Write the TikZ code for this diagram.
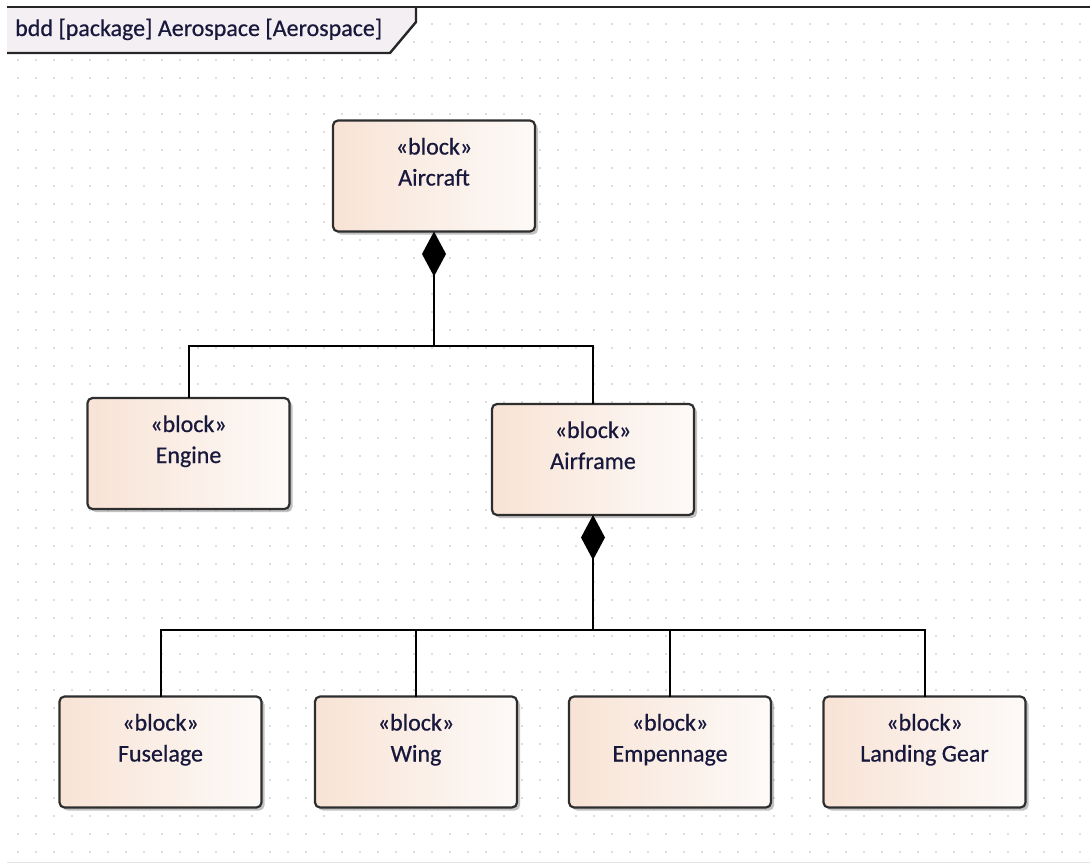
\documentclass[tikz,border=0pt]{standalone}
\usepackage{fontspec}
\setmainfont{Carlito}[FakeBold=0.6]
\usetikzlibrary{arrows.meta,shadows}
\definecolor{txt}{HTML}{18183C}
\definecolor{boxc}{HTML}{2E2E2E}
\definecolor{fillL}{HTML}{F8E3D5}
\definecolor{fillR}{HTML}{FDFAF8}
\definecolor{tabc}{HTML}{F4EFF2}
\definecolor{dotc}{HTML}{B8B8B8}
\newcommand{\blkc}[1]{\parbox[c][111pt][t]{202pt}{\centering\rule{0pt}{34pt}«block»\\#1}}
\begin{document}
\begin{tikzpicture}[x=1pt,y=-1pt,
  blk/.style={draw=boxc, line width=2.2pt, rounded corners=5pt, left color=fillL, right color=fillR,
    inner sep=0pt, outer sep=0pt, drop shadow={shadow xshift=3pt, shadow yshift=-3pt, opacity=0.35, fill=black!70},
    font=\fontsize{24}{31}\selectfont, text=txt},
  conn/.style={line width=2pt, black},
  comp/.style={conn, {Diamond[length=45pt,width=24pt]}-},
  frame/.style={line width=2.4pt, black!85}]
\useasboundingbox (0,0) rectangle (1090,865);
% dot grid
\foreach \i in {1,...,60}{\foreach \j in {0,...,44}{\fill[dotc] (18*\i,60+18*\j) circle (0.9pt);}}
\foreach \i in {24,...,60}{\fill[dotc] (18*\i,24) circle (0.9pt);}
\foreach \i in {23,...,60}{\fill[dotc] (18*\i,42) circle (0.9pt);}
% frame
\fill[tabc] (7,7) -- (416,7) -- (416,22) -- (390,53) -- (7,53) -- cycle;
\draw[frame] (7,53) -- (390,53) -- (416,22) -- (416,7);
\draw[frame] (7,7) -- (1090,7);
\draw[black!10, line width=1pt] (7,862) -- (1090,862);
\node[anchor=base west, inner sep=0pt, font=\fontsize{24}{29}\selectfont, text=txt] (title) at (15,36) {bdd [package] Aerospace [Aerospace]};
% blocks
\node[blk] (aircraft) at (434,176) {\blkc{Aircraft}};
\node[blk] (engine) at (188.5,453.5) {\blkc{Engine}};
\node[blk] (airframe) at (593,459.5) {\blkc{Airframe}};
\node[blk] (fuselage) at (160.5,752) {\blkc{Fuselage}};
\node[blk] (wing) at (416,752) {\blkc{Wing}};
\node[blk] (empennage) at (670,752) {\blkc{Empennage}};
\node[blk] (gear) at (924.5,752) {\blkc{Landing Gear}};
% connectors
\coordinate (j1) at (434,346);
\coordinate (j2) at (593,630);
\draw[comp] (aircraft.south) -- (j1);
\draw[conn] (j1) -| (engine.north);
\draw[conn] (j1) -| (airframe.north);
\draw[comp] (airframe.south) -- (j2);
\draw[conn] (j2) -| (fuselage.north);
\draw[conn] (j2) -| (wing.north);
\draw[conn] (j2) -| (empennage.north);
\draw[conn] (j2) -| (gear.north);
\end{tikzpicture}
\end{document}
